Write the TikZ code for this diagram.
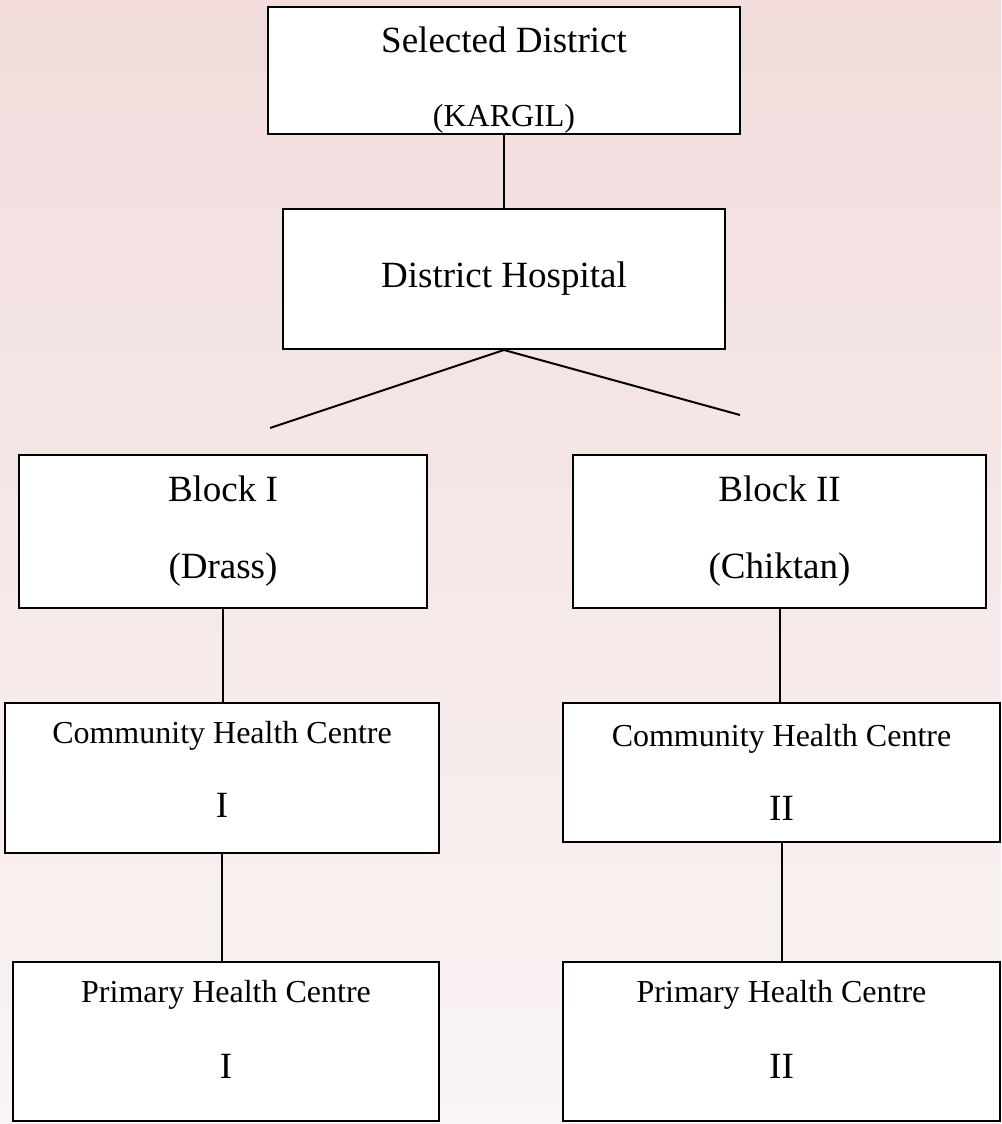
\documentclass[tikz,border=0pt]{standalone}
\usepackage{fontspec}
\setmainfont{Liberation Serif}
\usetikzlibrary{positioning}

\definecolor{bgtop}{HTML}{F2DCDC}
\definecolor{bgbot}{HTML}{FAF4F4}

\begin{document}
\begin{tikzpicture}[x=0.5pt, y=-0.5pt, line width=1pt,
    box/.style={draw, fill=white, align=center, inner sep=0pt, font=\fontsize{18.5}{22}\selectfont}]
    \shade[top color=bgtop, bottom color=bgbot] (0,0) rectangle (1001,1124);

    \node[box, minimum width=236pt, minimum height=63.5pt] (sel) at (504,70.5)
        {\rule{0pt}{22.6pt}Selected District\\[15pt]{\fontsize{16}{19}\selectfont (KARGIL)}};
    \node[box, minimum width=221pt, minimum height=70pt]   (dh)  at (504,279)   {District Hospital};
    \node[box, minimum width=204pt, minimum height=76.5pt] (b1)  at (223,531.5) {Block I\\[16.5pt](Drass)};
    \node[box, minimum width=206.5pt, minimum height=76.5pt] (b2) at (779.5,531.5) {Block II\\[16.5pt](Chiktan)};
    \node[box, minimum width=217pt, minimum height=75pt]   (c1)  at (222,778)   {{\fontsize{16}{19}\selectfont Community Health Centre}\\[15pt]I\rule[-9pt]{0pt}{9pt}};
    \node[box, minimum width=218.5pt, minimum height=69.5pt] (c2) at (781.5,772.5) {{\fontsize{16}{19}\selectfont Community Health Centre}\\[15pt]II};
    \node[box, minimum width=213pt, minimum height=79.5pt] (p1)  at (226,1041.5) {{\fontsize{16}{19}\selectfont Primary Health Centre}\\[16pt]I\rule[-12pt]{0pt}{12pt}};
    \node[box, minimum width=218.5pt, minimum height=79.5pt] (p2) at (781.5,1041.5) {{\fontsize{16}{19}\selectfont Primary Health Centre}\\[16pt]II\rule[-12pt]{0pt}{12pt}};

    \coordinate (lend) at (270,428);
    \coordinate (rend) at (740,415);

    \path (sel)     edge (dh)
          (dh.south) edge (lend)
                     edge (rend)
          (b1.south) edge (b1.south |- c1.north)
          (b2.south) edge (b2.south |- c2.north)
          (c1.south) edge (c1.south |- p1.north)
          (c2.south) edge (c2.south |- p2.north);
\end{tikzpicture}
\end{document}
